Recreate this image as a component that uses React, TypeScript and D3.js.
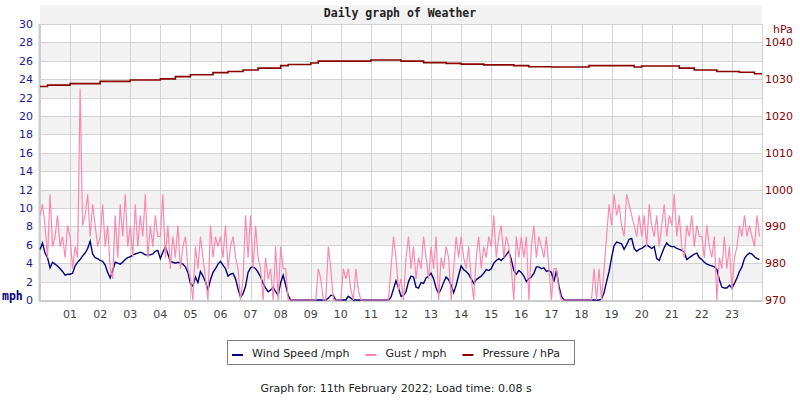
import { useEffect, useRef } from "react";
import * as d3 from "d3";

// tick labels
const hourLabels = ["01", "02", "03", "04", "05", "06", "07", "08", "09", "10", "11", "12",
    "13", "14", "15", "16", "17", "18", "19", "20", "21", "22", "23"];
const mphTicks = [0, 2, 4, 6, 8, 10, 12, 14, 16, 18, 20, 22, 24, 26, 28, 30];
const hpaTicks = [970, 980, 990, 1000, 1010, 1020, 1030, 1040];

// wind speed, mph, one reading every 5 minutes (row = one hour)
const windSpeed = [
    5.5, 6.2, 5.1, 4.6, 3.5, 4.1, 3.9, 3.7, 3.4, 3.1, 2.7, 2.8,
    2.8, 2.9, 3.7, 4.1, 4.4, 4.8, 5.1, 5.6, 6.4, 5.0, 4.6, 4.5,
    4.3, 4.2, 3.8, 3.0, 2.4, 3.2, 4.1, 4.0, 3.9, 4.1, 4.4, 4.6,
    4.7, 4.9, 5.0, 5.1, 5.2, 5.1, 4.9, 4.9, 4.9, 5.0, 5.3, 5.4,
    4.5, 5.2, 5.8, 5.0, 4.2, 4.1, 4.0, 4.1, 4.0, 3.9, 3.6, 3.0,
    1.8, 1.5, 2.5, 1.9, 3.1, 2.6, 2.0, 1.1, 2.2, 3.0, 3.4, 3.9,
    4.2, 3.8, 3.4, 2.6, 2.8, 2.9, 2.3, 1.2, 0.3, 0.7, 1.5, 3.0,
    3.5, 3.6, 3.4, 3.0, 2.5, 1.8, 1.3, 0.9, 1.1, 1.4, 0.9, 0.5,
    1.9, 2.7, 1.6, 0.5, 0, 0, 0, 0, 0, 0, 0, 0,
    0, 0, 0, 0, 0, 0, 0, 0.2, 0.5, 0.5, 0, 0,
    0, 0, 0, 0.4, 0.2, 0, 0, 0, 0, 0, 0, 0,
    0, 0, 0, 0, 0, 0, 0, 0, 0.3, 1.2, 2.1, 1.3,
    0.4, 0.5, 0.9, 2.0, 2.6, 2.5, 1.4, 1.3, 1.9, 1.8, 2.4, 2.6,
    2.9, 2.3, 1.3, 0.7, 1.2, 1.9, 2.5, 2.2, 1.6, 0.8, 1.6, 2.7,
    3.7, 3.3, 3.1, 2.8, 2.3, 1.8, 2.2, 2.4, 2.6, 2.9, 3.3, 3.2,
    3.4, 4.0, 4.3, 4.5, 4.3, 4.6, 4.9, 5.3, 4.4, 3.2, 2.8, 3.2,
    3.0, 2.6, 2.0, 2.3, 2.5, 2.9, 3.6, 3.6, 3.4, 3.5, 3.1, 3.2,
    3.0, 2.0, 3.2, 1.5, 0.4, 0, 0, 0, 0, 0, 0, 0,
    0, 0, 0, 0, 0, 0, 0, 0, 0.1, 0.8, 2.0, 3.1,
    4.6, 5.9, 6.3, 6.2, 6.1, 5.5, 6.0, 6.6, 6.7, 5.6, 5.3, 5.5,
    5.6, 5.8, 6.0, 5.8, 5.6, 5.8, 4.5, 4.3, 5.0, 5.7, 6.2, 5.9,
    5.8, 5.8, 5.6, 5.5, 5.4, 5.2, 4.4, 4.6, 4.8, 5.0, 5.1, 4.6,
    4.4, 4.1, 3.9, 3.8, 3.7, 3.6, 3.3, 2.2, 1.4, 1.3, 1.3, 1.6,
    1.3, 1.8, 2.4, 3.1, 3.6, 4.5, 4.9, 5.1, 5.0, 4.7, 4.5, 4.4
];

// gust, mph, every 5 minutes
const gust = [
    9.2, 10.4, 8.1, 4.6, 11.5, 5.8, 6.9, 9.2, 5.8, 6.9, 4.6, 8.1,
    6.9, 3.4, 5.8, 4.6, 23.0, 8.1, 9.2, 11.5, 6.9, 10.4, 8.1, 5.8,
    6.9, 10.4, 5.8, 8.1, 3.4, 2.3, 9.2, 4.6, 10.4, 6.9, 11.5, 5.8,
    8.1, 4.6, 10.4, 5.8, 9.2, 6.9, 11.5, 4.6, 8.1, 5.8, 9.2, 6.9,
    6.9, 11.5, 4.6, 8.1, 3.4, 6.9, 4.6, 8.1, 3.4, 5.8, 6.9, 3.4,
    2.3, 0.0, 5.8, 3.4, 6.9, 4.6, 2.3, 0.0, 8.1, 4.6, 6.9, 5.8,
    6.9, 4.6, 8.1, 3.4, 5.8, 6.9, 4.6, 3.4, 0.0, 2.3, 9.2, 4.6,
    9.2, 3.4, 8.1, 4.6, 3.4, 0.0, 4.6, 2.3, 3.4, 0.0, 5.8, 0.0,
    5.8, 3.4, 3.4, 0, 0, 0, 0, 0, 0, 0, 0, 0,
    0, 0, 0, 3.4, 2.3, 0, 0, 5.8, 3.4, 0, 0, 0,
    0, 3.4, 2.3, 3.4, 1.1, 0, 3.4, 1.1, 0, 0, 0, 0,
    0, 0, 0, 0, 0, 0, 0, 0, 3.4, 6.9, 4.6, 1.1,
    2.3, 0.0, 4.6, 6.9, 3.4, 5.8, 2.3, 4.6, 3.4, 6.9, 4.6, 2.3,
    5.8, 3.4, 6.9, 0.0, 4.6, 3.4, 5.8, 4.6, 0.0, 3.4, 6.9, 4.6,
    6.9, 4.6, 3.4, 5.8, 2.3, 0.0, 4.6, 6.9, 3.4, 5.8, 4.6, 6.9,
    5.8, 9.2, 4.6, 6.9, 8.1, 4.6, 6.9, 5.8, 3.4, 0.0, 6.9, 4.6,
    6.9, 4.6, 6.9, 0.0, 5.8, 8.1, 4.6, 6.9, 5.8, 4.6, 6.9, 3.4,
    0.0, 3.4, 3.4, 1.1, 0, 0, 0, 0, 0, 0, 0, 0,
    0, 0, 0, 0, 0, 3.4, 0.0, 3.4, 0.0, 3.4, 6.9, 10.4,
    8.1, 11.5, 9.2, 10.4, 8.1, 6.9, 11.5, 10.4, 9.2, 8.1, 6.9, 9.2,
    6.9, 9.2, 5.8, 10.4, 8.1, 6.9, 9.2, 5.8, 8.1, 10.4, 6.9, 9.2,
    8.1, 11.5, 6.9, 9.2, 5.8, 4.6, 8.1, 6.9, 9.2, 5.8, 8.1, 6.9,
    6.9, 4.6, 8.1, 5.8, 4.6, 6.9, 0.0, 4.6, 3.4, 6.9, 3.4, 5.8,
    1.1, 4.6, 5.8, 8.1, 6.9, 9.2, 6.9, 8.1, 6.9, 5.8, 9.2, 6.9
];

// pressure, hPa, every 15 minutes
const pressure = [
    1028.0, 1028.4, 1028.4, 1028.4, 1028.8, 1028.8, 1028.8, 1028.8,
    1029.4, 1029.4, 1029.4, 1029.4, 1029.8, 1029.8, 1029.8, 1029.8,
    1030.1, 1030.1, 1030.7, 1030.7, 1031.2, 1031.2, 1031.2, 1031.8,
    1031.8, 1032.1, 1032.1, 1032.5, 1032.5, 1033.0, 1033.0, 1033.0,
    1033.7, 1034.0, 1034.0, 1034.0, 1034.4, 1034.9, 1034.9, 1034.9,
    1034.9, 1034.9, 1034.9, 1034.9, 1035.2, 1035.2, 1035.2, 1035.2,
    1034.9, 1034.9, 1034.9, 1034.5, 1034.5, 1034.5, 1034.3, 1034.3,
    1034.1, 1034.1, 1034.1, 1033.9, 1033.9, 1033.9, 1033.9, 1033.7,
    1033.7, 1033.4, 1033.4, 1033.4, 1033.3, 1033.3, 1033.3, 1033.3,
    1033.3, 1033.7, 1033.7, 1033.7, 1033.7, 1033.7, 1033.7, 1033.3,
    1033.6, 1033.6, 1033.6, 1033.6, 1033.6, 1033.0, 1033.0, 1032.5,
    1032.5, 1032.5, 1032.1, 1032.1, 1032.1, 1031.9, 1031.9, 1031.5,
    1031.5
];

const seriesInfo = [
    { id: "wind", label: "Wind Speed /mph", color: "#000080" },
    { id: "gust", label: "Gust / mph", color: "#ff88b0" },
    { id: "pressure", label: "Pressure / hPa", color: "#8b0000" },
];

function App() {
    const ref = useRef(null);

    useEffect(() => {
        const width = 800;
        const height = 400;
        const margin = { top: 24, right: 38, bottom: 100, left: 40 };
        const innerWidth = width - margin.left - margin.right;
        const innerHeight = height - margin.top - margin.bottom;

        const svg = d3.select(ref.current)
            .append("svg")
            .attr("width", width)
            .attr("height", height)
            .style("display", "block")
            .style("font-family", "'DejaVu Sans', sans-serif");

        svg.append("rect").attr("width", width).attr("height", height).attr("fill", "#ffffff");

        const xScale = d3.scaleLinear().domain([0, 24]).range([margin.left, margin.left + innerWidth]);
        const yMph = d3.scaleLinear().domain([0, 30]).range([margin.top + innerHeight, margin.top]);
        const yHpa = d3.scaleLinear().domain([970, 1045]).range([margin.top + innerHeight, margin.top]);

        // alternate bands
        svg.append("g")
            .selectAll("rect")
            .data(mphTicks.filter(t => t % 4 === 2))
            .join("rect")
            .attr("x", margin.left)
            .attr("width", innerWidth)
            .attr("y", d => yMph(d + 2))
            .attr("height", d => yMph(d) - yMph(d + 2))
            .attr("fill", "#f2f2f2");

        const grid = svg.append("g")
            .attr("stroke", "#d3d3d3")
            .attr("shape-rendering", "crispEdges");
        grid.selectAll(".h")
            .data(mphTicks)
            .join("line")
            .attr("class", "h")
            .attr("x1", margin.left).attr("x2", margin.left + innerWidth)
            .attr("y1", d => Math.round(yMph(d)) + 0.5)
            .attr("y2", d => Math.round(yMph(d)) + 0.5);
        grid.selectAll(".v")
            .data(d3.range(0, 25))
            .join("line")
            .attr("class", "v")
            .attr("y1", margin.top).attr("y2", margin.top + innerHeight)
            .attr("x1", d => Math.round(xScale(d)) + 0.5)
            .attr("x2", d => Math.round(xScale(d)) + 0.5);

        // heavier left + bottom axis lines
        svg.append("line")
            .attr("x1", margin.left - 0.5).attr("x2", margin.left - 0.5)
            .attr("y1", margin.top).attr("y2", margin.top + innerHeight + 2)
            .attr("stroke", "#cccccc").attr("stroke-width", 2);
        svg.append("line")
            .attr("x1", margin.left - 1).attr("x2", margin.left + innerWidth + 1)
            .attr("y1", margin.top + innerHeight + 1).attr("y2", margin.top + innerHeight + 1)
            .attr("stroke", "#cccccc").attr("stroke-width", 2);

        const minutesToHours = (i, step) => i * step / 60;

        const windLine = d3.line()
            .x((d, i) => xScale(minutesToHours(i, 5)))
            .y(d => yMph(d));
        const hpaLine = d3.line()
            .x((d, i) => xScale(minutesToHours(i, 15)))
            .y(d => yHpa(d))
            .curve(d3.curveStepAfter);

        svg.append("path")
            .attr("d", windLine(windSpeed))
            .attr("fill", "none")
            .attr("stroke", seriesInfo[0].color)
            .attr("stroke-width", 1.4);

        svg.append("path")
            .attr("d", windLine(gust))
            .attr("fill", "none")
            .attr("stroke", seriesInfo[1].color)
            .attr("stroke-width", 1.2);

        svg.append("path")
            .attr("d", hpaLine(pressure))
            .attr("fill", "none")
            .attr("stroke", seriesInfo[2].color)
            .attr("stroke-width", 1.6);

        // axis labels
        svg.append("g")
            .selectAll("text")
            .data(mphTicks)
            .join("text")
            .attr("x", margin.left - 7)
            .attr("y", d => yMph(d) + 4)
            .attr("text-anchor", "end")
            .attr("fill", "#1a1a8c")
            .style("font-size", "11px")
            .text(d => d);

        svg.append("g")
            .selectAll("text")
            .data(hpaTicks)
            .join("text")
            .attr("x", margin.left + innerWidth + 3)
            .attr("y", d => yHpa(d) + 4)
            .attr("fill", "#8b0000")
            .style("font-size", "11px")
            .text(d => d);

        svg.append("g")
            .selectAll("text")
            .data(hourLabels)
            .join("text")
            .attr("x", (d, i) => xScale(i + 1))
            .attr("y", margin.top + innerHeight + 18)
            .attr("text-anchor", "middle")
            .attr("fill", "#444444")
            .style("font-size", "11px")
            .text(d => d);

        svg.append("text")
            .attr("x", 2).attr("y", margin.top + innerHeight)
            .attr("fill", "#000080")
            .style("font-family", "'DejaVu Sans Mono', monospace")
            .style("font-weight", "bold")
            .style("font-size", "11.5px")
            .text("mph");

        svg.append("text")
            .attr("x", 773).attr("y", 33)
            .attr("fill", "#8b0000")
            .style("font-size", "11px")
            .text("hPa");

        svg.append("text")
            .attr("x", width / 2).attr("y", 17)
            .attr("text-anchor", "middle")
            .attr("fill", "#222222")
            .style("font-family", "'DejaVu Sans Mono', monospace")
            .style("font-weight", "bold")
            .style("font-size", "11.5px")
            .text("Daily graph of Weather");

        // legend
        const legend = svg.append("g");
        legend.append("rect")
            .attr("x", 227.5).attr("y", 340.5)
            .attr("width", 347).attr("height", 24)
            .attr("fill", "#ffffff")
            .attr("stroke", "#808080");
        let cursor = 232;
        seriesInfo.forEach(s => {
            legend.append("line")
                .attr("x1", cursor).attr("x2", cursor + 11)
                .attr("y1", 355).attr("y2", 355)
                .attr("stroke", s.color).attr("stroke-width", 2);
            const t = legend.append("text")
                .attr("x", cursor + 20).attr("y", 357)
                .attr("fill", "#222222")
                .style("font-size", "11px")
                .text(s.label);
            cursor += 20 + t.node().getComputedTextLength() + 16;
        });

        svg.append("text")
            .attr("x", 396).attr("y", 392)
            .attr("text-anchor", "middle")
            .attr("fill", "#222222")
            .style("font-size", "11px")
            .text("Graph for: 11th February 2022; Load time: 0.08 s");

        return () => {
            svg.remove();
        };
    }, []);

    return <div ref={ref} style={{ position: "absolute", left: 0, top: 0 }}></div>;
}

export default App;
